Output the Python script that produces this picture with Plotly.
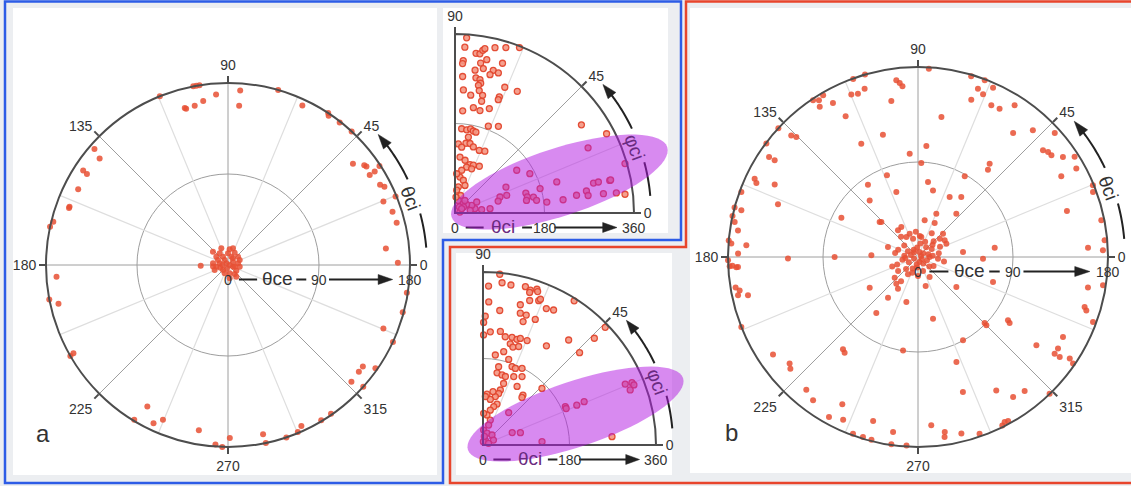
import math
import plotly.graph_objects as go

W, H = 1131, 486
FONT = "Liberation Sans, Arial, sans-serif"

# ---------------- data ----------------
# Panel a: theta_ci (polar angle, deg) and theta_ce (radius, 0-180 deg)
a_theta_ci = [101, 100, 99, 112, 94, 86, 98.6, 101.8, 105.4, 105, 86, 74, 65, 56.6, 56, 51.9, 47.2,
              39, 36.2, 35.4, 32.5, 32.4, 33.2, 27.8, 26.6, 22.2, 22.2, 17.9, 14.1, 6, 0.8, 351.2,
              344.9, 337.8, 335, 325, 323, 320.8, 316.6, 318, 304.7, 301, 294.5, 292.7, 288.7, 281.7,
              282, 270.6, 268.2, 266, 260, 247.2, 244.8, 238.8, 240.3, 209.7, 210, 192.9, 190.9, 183.9,
              167.9, 166.1, 159.8, 160.3, 153.2, 146.9, 147.2, 140.3, 139, 181.4,
              111.8, 138.4, 84, 73.3, 61.6, 23.2, 9.5, 341.6, 135, 168.7, 188.1, 173.7, 225, 281.3,
              306.5, 325.8, 68.2, 121, 144.5, 153.4, 253, 199, 351.9, 277, 123.7, 33.7, 200.6, 305.5,
              53.1, 90, 180, 0, 346, 248, 125.5, 39.8, 186]
a_theta_ce = [180, 180, 180, 180, 169, 173, 164, 161, 161, 160, 158, 180, 174, 180, 178, 179, 180,
              159, 167, 168, 172, 166, 179, 170, 173, 179, 166, 171, 172, 157, 168, 179,
              179, 166, 180, 178, 167, 167, 168, 180, 179, 179, 175, 179, 180, 171,
              180, 171, 180, 178, 166, 166, 173, 179, 161, 176, 180, 172, 180, 170,
              180, 178, 167, 167, 166, 171, 166, 165, 175, 27,
              17.8, 19.9, 15.6, 17.2, 13.9, 12.6, 10, 5.2, 2.3, 8.4, 11.7, 14.9, 7, 8.4,
              11.1, 10, 8.9, 9.6, 14.2, 11.1, 3.4, 8, 11.7, 13.3, 5.9, 5.9, 14.1, 14.2,
              8.2, 11.5, 5.6, 1.6, 6.8, 8.9, 14.2, 12.9, 14.9]

# Panel b: theta_ci (polar angle, deg) and theta_ce (radius, 0-180 deg)
b_theta_ci = [86.7, 97, 96, 95.2, 99.7, 106, 116.6, 117.2, 118.9, 123.2, 122.3, 120.4, 123.8, 110, 106.2,
              112.3, 110.2, 107.6, 80.5, 85.7, 94.6, 73.6, 69.3, 70.4, 68.2, 71.3, 66.1, 64.2, 61.2,
              57.5, 52.5, 47.8, 40.5, 38.9, 37.3, 42.2, 34.6, 29.2, 32.6, 29.4, 52.5, 51.3, 59.9, 22.3,
              20.4, 17.2, 11.3, 3.1, 2.1, 5.1,
              135.4, 136.2, 137.3, 143.2, 146.1, 146, 154.4, 155.4, 153.2, 159.4, 159.8, 164.9, 165.2,
              167.5, 171.6, 169.2, 176.1, 175, 175.9, 178.9, 183.2, 182.8, 182.7, 183.2, 181, 189.5,
              190.6, 192.7, 192, 201.6, 180.7, 180, 152.8, 178, 130.5, 124.7, 110.8, 108.4, 137.6,
              213.9, 219.7, 221.2, 230.9, 232.5, 229.9, 233.8, 242.8, 240.9, 245.3, 254.7, 249.8, 253,
              255.7, 261.9, 261.9, 266.5, 274.5, 278.7, 278.4, 283.8, 289.2, 296.6, 297.7, 298.8,
              288.4, 300.4, 304.2, 308.5, 290.1, 298.4, 323.3, 324.7, 324.8, 326.8, 331.1, 326.2,
              325.5, 313.9, 324.9, 324.2, 315.3, 315, 343.3, 342.4, 339.6, 349.8, 351.3, 283.7, 322,
              341.6, 260.9, 233.3, 233.6, 237.7, 230.9, 255.5, 284.8, 221.5, 212.4,
              6.9, 358.5, 25.2, 43, 32, 63.9, 67.1, 79.7, 80.5, 109.7, 119.1, 126.9, 161.6, 136.3,
              77.3, 62.2, 54.2, 48.5, 6.3, 82.4, 88,
              20, 75, 130, 200, 260, 310, 15, 50, 95, 150, 175, 210, 245, 290, 340, 30, 65, 105, 140,
              190, 225, 270, 320, 355, 10, 45, 120, 160, 200, 240, 300, 35, 165, 285, 120, 0, 80, 185,
              330, 25, 95, 215, 350, 265, 330, 85, 40, 250, 5, 60, 40, 130, 235, 200, 170]
b_theta_ce = [178.7, 168.6, 165.8, 162.4, 150, 120.6, 120, 150, 166.7, 170, 175.6, 177.6, 178.7, 179.5, 180,
              166.5, 164.8, 167.3, 134.5, 105.5, 98.2, 178.4, 178.9, 169.3, 166, 157.4, 175.5, 159.6, 160.4,
              170.4, 148, 162, 155.7, 158.3, 158.9, 174.9, 166.8, 171.8, 176.1, 155.8, 111.5, 106, 88.3, 179.1,
              176.9, 147.7, 177.1, 161.3, 175.3, 177.5,
              161.9, 166.4, 180, 179.4, 170, 163.8, 171.6, 168.4, 152.1, 141.7, 178.3, 180, 173.1,
              180, 172.4, 176.8, 163, 180, 177.3, 170.5, 172.4, 178.6, 176, 170.8, 180, 175.2,
              171.9, 165.1, 174.3, 180, 123.2, 79, 81.6, 44.2, 70.5, 83.3, 82.8, 65, 49.2,
              165.5, 158.1, 160.7, 112.7, 114.2, 164.3, 168.3, 156.9, 173.4, 169.7, 161.1, 178.3, 178.3,
              178.6, 167.5, 179.3, 178.8, 160, 167.7, 172.4, 172.3, 177.3, 178.4, 176.6, 177.2,
              134.8, 146.5, 160.3, 162.3, 105.9, 89.7, 139.9, 158.6, 164.3, 158.5, 156.9, 173,
              178.2, 179.8, 104.2, 107, 88.8, 91.6, 164.8, 167.3, 176.9, 163.6, 177.3, 60.1, 46.1,
              74.9, 89.6, 66.1, 47.9, 35.5, 32.6, 44, 28.4, 29.5, 54.2,
              73.2, 61.6, 29.7, 32.4, 29.8, 35.9, 44.6, 35.3, 19.2, 23.5, 32.5, 31.6, 30, 48,
              64.7, 64.3, 70.1, 54.8, 42.9, 71.7, 89.1,
              3, 5, 6, 4, 7, 8, 10, 12, 9, 11, 13, 10, 12, 14, 9, 15, 16, 18, 17,
              15, 16, 18, 14, 19, 20, 21, 22, 20, 21, 19, 22, 6, 7, 5, 8, 11, 13, 12,
              17, 23, 24, 23, 25, 10, 4, 20, 18, 16, 14, 26, 27, 25, 28, 26, 22]

# Upper inset: phi_ci (polar angle, 0-90 deg) and theta_ci (radius, 0-360 deg)
ia_phi_ci = [86.2, 86.6, 82.5, 81.1, 80.3, 79.7, 76.4, 72.9, 68.7, 86.9, 87.1, 80.3, 78.3, 72.4, 82, 78.9,
             75, 75.8, 72.8, 86.8, 81.2, 79.4, 78.8, 79.6, 68.4, 86.1, 78.8, 82.4, 76.8, 69.1, 69.1, 62.9,
             76.6, 80.1, 76.3, 71.8, 85.7, 69, 63.4, 34.9, 85.5, 82, 79.5, 77.4, 75.5, 80, 87.2, 81.1,
             77.8, 74.5, 84.2, 68.8, 64.2, 84.9, 79.2, 72.9, 69, 62.5, 75.8, 81.1, 82.1, 75.7, 70.1,
             82.7, 85.8, 72.2, 75.3, 48.2,
             26.1, 27.6, 16.2, 27.7, 34.7, 17, 12.2, 12.2, 11.9, 12, 27, 15.7, 16, 18.9, 12.5, 11.5, 10,
             8.8, 6.8, 7, 8.3, 9.5, 7.5, 7.4, 7.1, 6.3, 19.6, 15.5, 7.1, 7.1, 12.2, 24.7, 26.9, 10.1,
             36.6, 35.8, 11.3, 51.7, 87.6, 86.4, 54.2, 33, 69.4]
ia_theta_ci = [353, 334, 324, 324, 332, 336, 342, 348, 357, 307, 301, 306, 315, 316, 290, 296,
               297, 287, 295, 275, 275, 273, 266, 261, 272, 248, 251, 239, 243, 250, 244, 275,
               231, 215, 212, 221, 206, 187, 195, 310, 170, 169, 172, 169, 168, 155, 139, 142,
               143, 138, 133, 135, 138, 113, 108, 102, 103, 106, 95, 87, 73, 68, 59,
               53, 46, 37, 26, 25,
               298, 344, 356, 170, 151, 214, 285, 295, 318, 320, 115, 148, 178, 110, 149, 161, 146,
               166, 186, 219, 247, 268, 270, 301, 327, 344, 96, 90, 71, 54, 41, 37, 49, 31,
               29, 21, 10, 32, 79, 32, 15, 16, 95]

# Lower inset: phi_ci (polar angle, 0-90 deg) and theta_ci (radius, 0-360 deg)
ib_phi_ci = [84.4, 83.3, 80.1, 75, 73, 70.9, 70.4, 73, 88, 87.7, 82.9, 75.1, 72.1, 68.9, 68.5, 65.1,
             62.4, 57.7, 89, 89.7, 74.2, 71.6, 67.4, 72, 89.7, 86.3, 81.3, 78.4, 74.9, 72.2, 70.7,
             74.9, 73, 70.1, 67.1, 57.4, 50.8, 43.7, 43.8, 43.9, 77.5, 82.2, 73.3, 69.7, 67.1, 63,
             78.7, 79, 74.8, 71.9, 65.8, 60.3, 71.5, 59.8, 72.5, 73.1, 75.7, 80.9, 85.5, 87.2, 79.4,
             51.3, 50.7, 43.8,
             71.1, 74.4, 78.2, 82.4, 73.7, 74.2, 87.5, 71.1, 48, 65, 25.1, 84, 16.4, 23, 18.3, 51.6,
             3.2, 25, 23.7, 23, 23.2, 23.2, 22.7, 21.7, 20.5, 3.7, 88.8, 81]
ib_theta_ci = [357, 340, 338, 341, 337, 343, 339, 332, 331, 298, 282, 302, 316, 322, 326, 313,
               317, 355, 268, 255, 285, 285, 283, 270, 229, 236, 239, 230, 232, 231, 235,
               218, 213, 218, 236, 245, 282, 278, 321, 353, 199, 189, 186, 174, 173, 179,
               166, 153, 151, 150, 156, 164, 135, 141, 120, 112, 104, 96, 106, 101, 113,
               133, 128, 170,
               90, 83, 74, 63, 54, 43, 31, 26, 28, 11, 24, 7, 12, 66, 82, 86,
               123, 189, 189, 212, 229, 322, 336, 338, 327, 269, 66, 18]

# Highlighted region in each inset: centre (theta_ci, phi_ci), semi-axes (theta_ci units), tilt (deg)
ia_region = dict(theta=219, phi=16.5, a=228, b=68, tilt=18)
ib_region = dict(theta=203, phi=18.5, a=236, b=68, tilt=18.5)

# ---------------- layout geometry (pixels) ----------------
PANELS = {
    "a":  dict(polar="polar",  cx=228, cy=265, R=182, rmax=180, full=True,  rlabel="θce", alabel="θci"),
    "ia": dict(polar="polar2", cx=455, cy=213, R=179, rmax=360, full=False, rlabel="θci", alabel="φci"),
    "ib": dict(polar="polar3", cx=483, cy=445, R=173, rmax=360, full=False, rlabel="θci", alabel="φci"),
    "b":  dict(polar="polar4", cx=918, cy=257, R=190, rmax=180, full=True,  rlabel="θce", alabel="θci"),
}

GRID_DARK = "#9e9e9e"
GRID_LIGHT = "#dedede"
AXIS_DARK = "#4d4d4d"
INK = "#222222"
TXT = "#333333"
PURPLE_TXT = "#6a2a80"


def P(x, y):
    """pixel -> paper"""
    return x / W, 1 - y / H


def path_str(pts, close=False):
    s = "M " + " L ".join(f"{P(x, y)[0]:.5f},{P(x, y)[1]:.5f}" for x, y in pts)
    return s + (" Z" if close else "")


def polar_px(p, rad_px, ang_deg):
    t = math.radians(ang_deg)
    return p["cx"] + rad_px * math.cos(t), p["cy"] - rad_px * math.sin(t)


fig = go.Figure()
shapes, annotations = [], []


def polar_layout(p):
    cx, cy, R = p["cx"], p["cy"], p["R"]
    if p["full"]:
        dom = dict(x=[(cx - R) / W, (cx + R) / W], y=[1 - (cy + R) / H, 1 - (cy - R) / H])
        tickvals = list(range(0, 360, 45))
        sector = [0, 360]
    else:
        dom = dict(x=[cx / W, (cx + R) / W], y=[1 - cy / H, 1 - (cy - R) / H])
        tickvals = [0, 45, 90]
        sector = [0, 90]
    return dict(
        domain=dom, sector=sector, bgcolor="rgba(0,0,0,0)",
        angularaxis=dict(rotation=0, direction="counterclockwise", tickmode="array",
                         tickvals=tickvals, ticktext=[str(v) for v in tickvals],
                         showline=True, linecolor=AXIS_DARK, linewidth=2,
                         gridcolor=GRID_DARK, gridwidth=1.3,
                         ticks="outside", ticklen=6, tickwidth=1.5, tickcolor=AXIS_DARK,
                         tickfont=dict(size=14, color=TXT, family=FONT)),
        radialaxis=dict(range=[0, p["rmax"]], tickmode="array", tickvals=[p["rmax"] / 2],
                        showticklabels=False, ticks="", showline=False,
                        gridcolor=GRID_DARK, gridwidth=1.3),
    )


def add_points(key, ang, rad, marker):
    p = PANELS[key]
    light = [22.5 + 45 * k for k in range(8)] if p["full"] else [22.5, 67.5]
    rr, tt = [], []
    for a in light:
        rr += [0, p["rmax"], None]
        tt += [a, a, None]
    fig.add_trace(go.Scatterpolar(r=rr, theta=tt, mode="lines", subplot=p["polar"],
                                  line=dict(color=GRID_LIGHT, width=1.2),
                                  hoverinfo="skip", showlegend=False))
    fig.add_trace(go.Scatterpolar(r=rad, theta=ang, mode="markers", subplot=p["polar"],
                                  marker=marker, cliponaxis=False, showlegend=False))


solid = dict(size=6, color="rgba(232,80,52,0.85)", line=dict(width=0))
ringed = dict(size=6, color="rgba(244,150,130,0.9)", line=dict(width=1.3, color="rgba(226,70,45,0.95)"))

add_points("a", a_theta_ci, a_theta_ce, solid)
add_points("ia", ia_phi_ci, ia_theta_ci, ringed)
add_points("ib", ib_phi_ci, ib_theta_ci, ringed)
add_points("b", b_theta_ci, b_theta_ce, solid)


def triangle(tip, base, half_w):
    dx, dy = tip[0] - base[0], tip[1] - base[1]
    n = math.hypot(dx, dy)
    ux, uy = -dy / n, dx / n
    return [tip, (base[0] + ux * half_w, base[1] + uy * half_w), (base[0] - ux * half_w, base[1] - uy * half_w)]


def line_shape(pts, width=2, color=INK):
    shapes.append(dict(type="path", xref="paper", yref="paper", path=path_str(pts),
                       line=dict(color=color, width=width), layer="above"))


def fill_shape(pts, color=INK):
    shapes.append(dict(type="path", xref="paper", yref="paper", path=path_str(pts, True),
                       fillcolor=color, line=dict(color=color, width=0.5), layer="above"))


def text(x, y, s, size=14, color=TXT, angle=0):
    px, py = P(x, y)
    annotations.append(dict(x=px, y=py, xref="paper", yref="paper", text=s, showarrow=False,
                            xanchor="center", yanchor="middle", textangle=angle,
                            font=dict(size=size, color=color, family=FONT)))


def decorate(key, rlabel_color=TXT, alabel_color=TXT):
    p = PANELS[key]
    cx, cy, R, rmax = p["cx"], p["cy"], p["R"], p["rmax"]
    yl = cy + 14.5
    # radial scale written under the zero-angle spoke
    for v in (0, rmax / 2, rmax):
        text(cx + v / rmax * R, yl, f"{v:g}")
    text(cx + 0.27 * R, yl - 1, p["rlabel"], size=19, color=rlabel_color)
    for f0, f1 in ((0.06, 0.16), (0.375, 0.43), (0.555, 0.83)):
        line_shape([(cx + f0 * R, yl), (cx + f1 * R, yl)])
    fill_shape(triangle((cx + 0.905 * R, yl), (cx + 0.825 * R, yl), 5))
    # angular direction arrow outside the rim
    ra = R + 17
    line_shape([polar_px(p, ra, a) for a in [5 + i for i in range(11)]])
    line_shape([polar_px(p, ra, 25.5 + i * 0.5) for i in range(24)])
    fill_shape(triangle(polar_px(p, ra, 41), polar_px(p, ra, 36.8), 5))
    tx, ty = polar_px(p, R + 12, 20)
    text(tx, ty, p["alabel"], size=19, color=alabel_color, angle=70)


decorate("a")
decorate("b")
decorate("ia", rlabel_color=PURPLE_TXT, alabel_color=PURPLE_TXT)
decorate("ib", rlabel_color=PURPLE_TXT, alabel_color=PURPLE_TXT)


def region(key, reg):
    p = PANELS[key]
    k = p["R"] / p["rmax"]
    c = polar_px(p, reg["theta"] * k, reg["phi"])
    t = math.radians(reg["tilt"])
    pts = []
    for i in range(72):
        s = 2 * math.pi * i / 72
        ex, ey = reg["a"] * k * math.cos(s), reg["b"] * k * math.sin(s)
        pts.append((c[0] + ex * math.cos(t) - ey * math.sin(t), c[1] - (ex * math.sin(t) + ey * math.cos(t))))
    shapes.append(dict(type="path", xref="paper", yref="paper", path=path_str(pts, True),
                       fillcolor="rgba(177,21,225,0.5)", line=dict(width=0), layer="above"))


region("ia", ia_region)
region("ib", ib_region)

# white card behind each panel
for x0, y0, x1, y1 in [(13, 8, 437, 475), (443, 8, 668, 233), (456, 253, 672, 475), (690, 8, 1131, 473)]:
    a0, b0 = P(x0, y1)
    a1, b1 = P(x1, y0)
    shapes.append(dict(type="rect", xref="paper", yref="paper", x0=a0, y0=b0, x1=a1, y1=b1,
                       fillcolor="white", line=dict(width=0), layer="below"))

# group frames
blue = [(5, 1.5), (681, 1.5), (681, 240), (443, 240), (443, 483), (5, 483)]
red = [(686, 1.5), (1135, 1.5), (1135, 483), (450, 483), (450, 247), (686, 247)]
shapes.append(dict(type="path", xref="paper", yref="paper", path=path_str(blue, True),
                   line=dict(color="#2d5ce6", width=2.5), layer="above"))
shapes.append(dict(type="path", xref="paper", yref="paper", path=path_str(red, True),
                   line=dict(color="#e8452c", width=2.5), layer="above"))

text(43, 433, "a", size=24, color=TXT)
text(731, 432, "b", size=24, color=TXT)

layout = dict(
    width=W, height=H, margin=dict(l=0, r=0, t=0, b=0),
    paper_bgcolor="#eceef1", plot_bgcolor="#eceef1",
    font=dict(family=FONT, color=TXT),
    shapes=shapes, annotations=annotations, showlegend=False,
)
for key, p in PANELS.items():
    layout[p["polar"]] = polar_layout(p)
fig.update_layout(**layout)

fig.write_html("out.html")
